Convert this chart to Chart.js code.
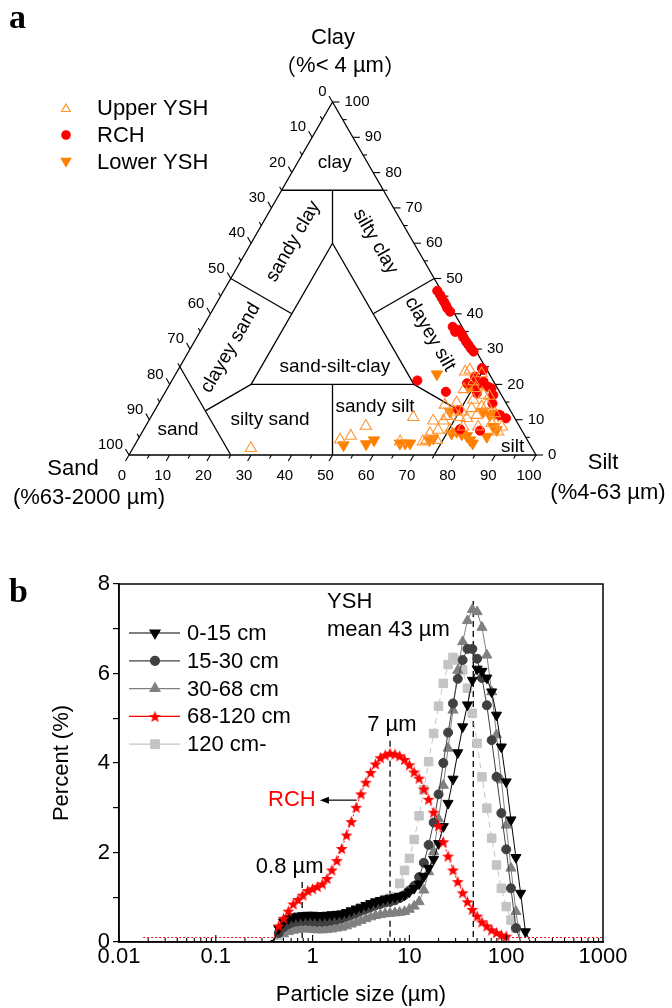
<!DOCTYPE html>
<html>
<head>
<meta charset="utf-8">
<script src="https://cdn.jsdelivr.net/npm/chart.js"></script>
<style>
  html, body { margin: 0; padding: 0; background: #fff; }
  #wrap { position: relative; width: 672px; height: 1008px; }
  canvas { position: absolute; left: 0; }
  #ternary { top: 0; }
  #psd { top: 560px; }
</style>
</head>
<body>
<div id="wrap">
  <canvas id="ternary" width="672" height="560"></canvas>
  <canvas id="psd" width="672" height="448"></canvas>
</div>
<script>
// # Panel a: sample composition (silt %, clay %; sand is the rest)
const upperYshSilt = [49.7, 51.8, 54.1, 64.7, 64.5, 70.3, 69.9, 73.5, 72.4, 70.5, 72.7, 75.3, 73.7, 73.1, 75.8, 78.1, 70.8, 77.8, 71.7, 77.6, 76.8, 75.6, 81.8, 79.8, 78.6, 80.8, 80.2, 84.6, 84.0, 87.4, 87.6, 75.1, 74.2, 73.0, 75.6, 72.4, 70.9, 71.0, 29.0, 79.8];
const upperYshClay = [4.3, 5.4, 8.2, 3.8, 10.7, 3.8, 9.7, 4.2, 7.1, 14.2, 11.0, 7.1, 12.3, 14.8, 10.7, 8.0, 23.6, 10.4, 24.1, 13.2, 15.6, 18.9, 8.0, 13.7, 17.0, 14.2, 16.7, 9.0, 11.8, 6.6, 8.0, 23.1, 20.8, 18.6, 12.3, 9.7, 6.1, 4.2, 1.9, 11.3];
const rchSilt = [52.5, 53.8, 54.7, 55.7, 56.6, 57.4, 58.6, 61.4, 62.7, 63.2, 64.6, 65.5, 66.8, 67.8, 68.9, 70.0, 74.4, 60.3, 68.9, 72.9, 75.5, 76.7, 78.6, 79.6, 81.0, 76.7, 82.0, 74.6, 85.5, 87.4, 77.7, 82.8, 75.0, 73.9];
const rchClay = [46.5, 45.3, 44.4, 43.4, 42.5, 41.6, 40.6, 36.3, 34.9, 35.4, 34.3, 33.3, 32.1, 31.2, 30.2, 29.3, 24.6, 21.1, 17.9, 20.3, 19.8, 20.8, 19.3, 18.9, 17.0, 17.5, 14.6, 12.7, 11.3, 10.4, 7.3, 6.9, 24.1, 22.2];
const lowerYshSilt = [51.3, 56.7, 58.1, 64.9, 66.2, 67.4, 71.7, 72.4, 64.2, 72.7, 76.2, 78.8, 80.3, 81.7, 82.8, 74.3, 80.9, 85.3, 83.0, 85.5, 86.8, 84.0, 85.1, 76.5, 77.2, 73.7];
const lowerYshClay = [2.8, 3.1, 4.2, 3.3, 3.3, 3.3, 4.2, 4.7, 22.9, 12.3, 6.1, 5.9, 5.4, 4.2, 3.3, 19.8, 12.3, 5.2, 11.3, 8.0, 7.1, 11.8, 11.3, 20.3, 6.6, 19.3];
const ternaryTicks = [0, 10, 20, 30, 40, 50, 60, 70, 80, 90, 100];

// # Panel b: particle size classes (µm) and percent per class
const sizeUm = [0.0178, 0.02, 0.0224, 0.0251, 0.0282, 0.0316, 0.0355, 0.0398, 0.0447, 0.0501,
  0.0562, 0.0631, 0.0708, 0.0794, 0.0891, 0.1, 0.112, 0.126, 0.141, 0.158,
  0.178, 0.2, 0.224, 0.251, 0.282, 0.316, 0.355, 0.398, 0.447, 0.501,
  0.562, 0.631, 0.708, 0.794, 0.891, 1, 1.12, 1.26, 1.41, 1.58,
  1.78, 2, 2.24, 2.51, 2.82, 3.16, 3.55, 3.98, 4.47, 5.01,
  5.62, 6.31, 7.08, 7.94, 8.91, 10, 11.2, 12.6, 14.1, 15.8,
  17.8, 20, 22.4, 25.1, 28.2, 31.6, 35.5, 39.8, 44.7, 50.1,
  56.2, 63.1, 70.8, 79.4, 89.1, 100, 112, 126, 141, 158,
  178, 200, 224, 251, 282, 316, 355, 398, 447, 501,
  562, 631, 708, 794, 891, 1000];
const pct0to15 = [0, 0, 0, 0, 0, 0, 0, 0, 0, 0,
  0, 0, 0, 0, 0, 0, 0, 0, 0, 0,
  0, 0, 0, 0, 0, 0, 0, 0.05, 0.3, 0.45,
  0.52, 0.56, 0.58, 0.59, 0.6, 0.6, 0.59, 0.59, 0.6, 0.61,
  0.62, 0.63, 0.66, 0.7, 0.74, 0.78, 0.82, 0.86, 0.9, 0.93,
  0.96, 0.98, 1.0, 1.02, 1.05, 1.12, 1.2, 1.3, 1.47, 1.65,
  1.85, 2.2, 2.58, 3.1, 3.64, 4.23, 4.81, 5.3, 5.85, 6.1,
  6.05, 5.9, 5.59, 5.07, 4.36, 3.58, 2.73, 1.89, 1.09, 0.23,
  0, 0, 0, 0, 0, 0, 0, 0, 0, 0,
  0, 0, 0, 0, 0, 0];
const pct15to30 = [0, 0, 0, 0, 0, 0, 0, 0, 0, 0,
  0, 0, 0, 0, 0, 0, 0, 0, 0, 0,
  0, 0, 0, 0, 0, 0, 0, 0.05, 0.2, 0.33,
  0.4, 0.44, 0.46, 0.47, 0.47, 0.46, 0.45, 0.45, 0.46, 0.48,
  0.5, 0.53, 0.57, 0.61, 0.65, 0.7, 0.74, 0.78, 0.82, 0.85,
  0.88, 0.9, 0.93, 0.98, 1.05, 1.15, 1.25, 1.45, 1.77, 2.17,
  2.67, 3.3, 4.0, 4.68, 5.33, 5.88, 6.3, 6.55, 6.55, 6.33,
  5.9, 5.29, 4.51, 3.69, 2.88, 2.07, 1.2, 0.31, 0, 0,
  0, 0, 0, 0, 0, 0, 0, 0, 0, 0,
  0, 0, 0, 0, 0, 0];
const pct30to68 = [0, 0, 0, 0, 0, 0, 0, 0, 0, 0,
  0, 0, 0, 0, 0, 0, 0, 0, 0, 0,
  0, 0, 0, 0, 0, 0, 0, 0.05, 0.1, 0.18,
  0.23, 0.26, 0.28, 0.29, 0.29, 0.28, 0.27, 0.27, 0.28, 0.29,
  0.31, 0.33, 0.36, 0.4, 0.44, 0.48, 0.52, 0.56, 0.59, 0.61,
  0.63, 0.64, 0.65, 0.66, 0.68, 0.73, 0.8, 0.9, 1.16, 1.57,
  2.02, 2.75, 3.5, 4.33, 5.18, 6.07, 6.71, 7.18, 7.43, 7.38,
  7.03, 6.41, 5.59, 4.63, 3.62, 2.61, 1.65, 0.68, 0, 0,
  0, 0, 0, 0, 0, 0, 0, 0, 0, 0,
  0, 0, 0, 0, 0, 0];
const pct68to120 = [0.1, 0.1, 0.1, 0.1, 0.1, 0.1, 0.1, 0.1, 0.1, 0.1,
  0.1, 0.1, 0.1, 0.1, 0.1, 0.1, 0.1, 0.1, 0.1, 0.1,
  0.1, 0.1, 0.1, 0.1, 0.1, 0.1, 0.1, 0.1, 0.36, 0.53,
  0.69, 0.85, 0.95, 1.05, 1.15, 1.19, 1.24, 1.3, 1.42, 1.61,
  1.82, 2.09, 2.39, 2.69, 3.01, 3.31, 3.57, 3.79, 3.98, 4.12,
  4.18, 4.22, 4.2, 4.16, 4.08, 3.96, 3.8, 3.66, 3.42, 3.19,
  2.9, 2.6, 2.24, 1.92, 1.61, 1.35, 1.1, 0.9, 0.73, 0.58,
  0.45, 0.36, 0.27, 0.21, 0.16, 0.13, 0.1, 0.1, 0.1, 0.1,
  0.1, 0.1, 0.1, 0.1, 0.1, 0.1, 0.1, 0.1, 0.1, 0.1,
  0.1, 0.1, 0.1, 0.1, 0.1, 0.1];
const pct120plus = [0, 0, 0, 0, 0, 0, 0, 0, 0, 0,
  0, 0, 0, 0, 0, 0, 0, 0, 0, 0,
  0, 0, 0, 0, 0, 0, 0, 0.05, 0.15, 0.25,
  0.3, 0.33, 0.35, 0.36, 0.36, 0.36, 0.36, 0.37, 0.39, 0.42,
  0.46, 0.5, 0.55, 0.6, 0.65, 0.7, 0.75, 0.8, 0.85, 0.9,
  0.95, 0.98, 1.01, 1.31, 1.6, 1.87, 2.29, 2.82, 3.4, 4.03,
  4.66, 5.27, 5.78, 6.2, 6.36, 6.3, 6.08, 5.67, 5.11, 4.44,
  3.69, 2.99, 2.32, 1.72, 1.2, 0.79, 0.49, 0.31, 0, 0,
  0, 0, 0, 0, 0, 0, 0, 0, 0, 0,
  0, 0, 0, 0, 0, 0];
const xTickValues = [0.01, 0.1, 1, 10, 100, 1000];
const psdLabels = ["0-15 cm", "15-30 cm", "30-68 cm", "68-120 cm", "120 cm-"];

// # Shared look
const FONT = '"Liberation Sans", Arial, Helvetica, sans-serif';
const CJK = '"Noto Sans CJK SC", "Noto Sans CJK JP", sans-serif';
Chart.defaults.font.family = FONT;
Chart.defaults.color = "#000";
Chart.defaults.animation = false;

const ORANGE_OPEN = "#ff9430";
const ORANGE_FILL = "#ff8000";
const RED = "#ff0000";

// # Little star picture used as point style
const makeStar = (color, size) => {
  const c = document.createElement("canvas");
  c.width = size;
  c.height = size;
  const g = c.getContext("2d");
  const R = size / 2 - 0.2, r = R * 0.42;
  g.beginPath();
  for (let i = 0; i < 10; i++) {
    const a = -Math.PI / 2 + (i * Math.PI) / 5;
    const rr = i % 2 ? r : R;
    g.lineTo(size / 2 + rr * Math.cos(a), size / 2 + 0.6 + rr * Math.sin(a));
  }
  g.closePath();
  g.fillStyle = color;
  g.fill();
  return c;
};
const redStar = makeStar(RED, 13);

// # Draw a marker by hand (for legends)
const marker = (ctx, kind, x, y, r, fill, stroke) => {
  if (kind === "star") {
    ctx.drawImage(redStar, x - redStar.width / 2, y - redStar.height / 2);
    return;
  }
  ctx.save();
  ctx.beginPath();
  if (kind === "triangle" || kind === "triangleDown") {
    const s = kind === "triangle" ? 1 : -1;
    ctx.moveTo(x, y - s * r);
    ctx.lineTo(x + 0.866 * r, y + s * 0.5 * r);
    ctx.lineTo(x - 0.866 * r, y + s * 0.5 * r);
    ctx.closePath();
  } else if (kind === "circle") {
    ctx.arc(x, y, r, 0, Math.PI * 2);
  } else if (kind === "rect") {
    const h = r * Math.SQRT1_2;
    ctx.rect(x - h, y - h, 2 * h, 2 * h);
  }
  if (fill) { ctx.fillStyle = fill; ctx.fill(); }
  if (stroke) { ctx.strokeStyle = stroke; ctx.lineWidth = 1.2; ctx.stroke(); }
  ctx.restore();
};

// # Ternary: silt/clay -> plain x/y of the scatter scales
const toTernary = (silt, clay) => silt.map((s, i) => ({ x: s + clay[i] / 2, y: clay[i] }));

// # Class boundaries (silt %, clay %)
const classLines = [
  [[0, 75], [25, 75]],
  [[12.5, 75], [20, 60]],
  [[20, 60], [20, 20], [60, 20], [20, 60]],
  [[0, 50], [20, 40]],
  [[50, 50], [40, 40]],
  [[0, 25], [25, 0]],
  [[75, 25], [75, 0]],
  [[12.5, 12.5], [20, 20]],
  [[50, 0], [40, 20]],
  [[60, 20], [75, 12.5]]
];
const classNames = [
  ["clay", 9.2, 82.7, 0],
  ["sandy clay", 10.1, 60.5, -60],
  ["silty clay", 30.3, 60.5, 60],
  ["clayey sand", 9.8, 30.3, -60],
  ["clayey silt", 56.8, 34.3, 60],
  ["sand-silt-clay", 38.1, 25, 0],
  ["silty sand", 29.7, 9.9, 0],
  ["sandy silt", 53.6, 13.7, 0],
  ["sand", 8.5, 7.1, 0],
  ["silt", 93.1, 2.3, 0]
];

// # Text with full-width brackets around it, centred on x
const bracketText = (ctx, inner, x, y, size) => {
  ctx.save();
  ctx.textAlign = "left";
  ctx.font = size + "px " + CJK;
  const wb = ctx.measureText("（").width;
  ctx.font = size + "px " + FONT;
  const wi = ctx.measureText(inner).width;
  const left = x - (wb * 2 + wi) / 2;
  ctx.font = size + "px " + CJK;
  ctx.fillText("（", left, y);
  ctx.font = size + "px " + FONT;
  ctx.fillText(inner, left + wb, y);
  ctx.font = size + "px " + CJK;
  ctx.fillText("）", left + wb + wi, y);
  ctx.restore();
};

const ternaryFrame = {
  id: "ternaryFrame",
  beforeDatasetsDraw(chart) {
    const { ctx } = chart;
    const xs = chart.scales.x, ys = chart.scales.y;
    const P = (silt, clay) => [xs.getPixelForValue(silt + clay / 2), ys.getPixelForValue(clay)];
    const seg = (x1, y1, x2, y2) => { ctx.beginPath(); ctx.moveTo(x1, y1); ctx.lineTo(x2, y2); ctx.stroke(); };

    ctx.save();
    ctx.strokeStyle = "#000";
    ctx.lineWidth = 1.3;

    // outer triangle and classes
    [[[0, 0], [100, 0], [0, 100], [0, 0]], ...classLines].forEach((pts) => {
      ctx.beginPath();
      pts.forEach((p, i) => {
        const [px, py] = P(p[0], p[1]);
        i ? ctx.lineTo(px, py) : ctx.moveTo(px, py);
      });
      ctx.stroke();
    });

    // ticks
    ctx.lineWidth = 1.1;
    for (let v = 0; v <= 100; v += 5) {
      const len = v % 10 === 0 ? 7 : 4;
      const [bx, by] = P(v, 0);
      seg(bx, by, bx - 0.5 * len, by + 0.866 * len);
      const [lx, ly] = P(0, 100 - v);
      seg(lx, ly, lx - 0.5 * len, ly - 0.866 * len);
      const [rx, ry] = P(100 - v, v);
      seg(rx, ry, rx + len, ry);
    }

    // tick labels
    ctx.fillStyle = "#000";
    ctx.font = "15px " + FONT;
    ctx.textBaseline = "middle";
    ternaryTicks.forEach((v) => {
      const [bx, by] = P(v, 0);
      ctx.textAlign = "center";
      ctx.fillText(String(v), bx - 7, by + 21);
      const [lx, ly] = P(0, 100 - v);
      ctx.textAlign = "right";
      ctx.fillText(String(v), lx - 6, ly - 10);
      const [rx, ry] = P(100 - v, v);
      ctx.textAlign = "left";
      ctx.fillText(String(v), rx + 12, ry);
    });

    // class names
    ctx.font = "19px " + FONT;
    ctx.textAlign = "center";
    classNames.forEach(([name, silt, clay, rot]) => {
      const [px, py] = P(silt, clay);
      ctx.save();
      ctx.translate(px, py);
      ctx.rotate((rot * Math.PI) / 180);
      ctx.fillText(name, 0, 0);
      ctx.restore();
    });

    // axis names
    ctx.font = "22px " + FONT;
    ctx.fillText("Clay", 333, 38);
    bracketText(ctx, "%< 4 µm", 340, 66, 22);
    ctx.font = "22px " + FONT;
    ctx.textAlign = "center";
    ctx.fillText("Sand", 73, 469);
    ctx.fillText("(%63-2000 µm)", 89, 498);
    ctx.fillText("Silt", 603, 463);
    ctx.fillText("(%4-63 µm)", 608, 493);

    // legend
    const legendRows = [
      ["Upper YSH", "triangle", 5, null, ORANGE_OPEN],
      ["RCH", "circle", 4.2, RED, RED],
      ["Lower YSH", "triangleDown", 5.5, ORANGE_FILL, ORANGE_FILL]
    ];
    ctx.textAlign = "left";
    legendRows.forEach(([text, kind, r, fill, stroke], i) => {
      const y = 108 + i * 27;
      marker(ctx, kind, 66, y + (kind === "triangle" ? 1 : kind === "triangleDown" ? -1 : 0), r, fill, stroke);
      ctx.fillStyle = "#000";
      ctx.fillText(text, 97, y + 1);
    });

    // panel letter
    ctx.font = "bold 34px \"Liberation Serif\", \"Times New Roman\", serif";
    ctx.textBaseline = "alphabetic";
    ctx.fillText("a", 9, 28);
    ctx.restore();
  }
};

new Chart(document.getElementById("ternary"), {
  type: "scatter",
  data: {
    datasets: [
      {
        label: "Upper YSH",
        data: toTernary(upperYshSilt, upperYshClay),
        pointStyle: "triangle",
        pointRadius: 6.5,
        pointBackgroundColor: "rgba(255,255,255,0)",
        pointBorderColor: ORANGE_OPEN,
        pointBorderWidth: 1.1,
        clip: false
      },
      {
        label: "RCH",
        data: toTernary(rchSilt, rchClay),
        pointStyle: "circle",
        pointRadius: 4.6,
        pointBackgroundColor: RED,
        pointBorderColor: RED,
        clip: false
      },
      {
        label: "Lower YSH",
        data: toTernary(lowerYshSilt, lowerYshClay),
        pointStyle: "triangle",
        pointRotation: 180,
        pointRadius: 6.5,
        pointBackgroundColor: ORANGE_FILL,
        pointBorderColor: ORANGE_FILL,
        clip: false
      }
    ]
  },
  options: {
    responsive: false,
    layout: { padding: { left: 129, right: 136, top: 102, bottom: 105 } },
    plugins: { legend: { display: false }, tooltip: { enabled: false } },
    scales: {
      x: { type: "linear", min: 0, max: 100, display: false },
      y: { type: "linear", min: 0, max: 100, display: false }
    }
  },
  plugins: [ternaryFrame]
});

// # Panel b
const psdStyles = [
  { color: "#000000", style: "triangle", rotation: 180, r: 5.8, dash: [] },
  { color: "#404040", style: "circle", rotation: 0, r: 4.5, dash: [] },
  { color: "#808080", style: "triangle", rotation: 0, r: 5.8, dash: [] },
  { color: RED, style: redStar, rotation: 0, r: 5, dash: [2, 2] },
  { color: "#c4c4c4", style: "rect", rotation: 0, r: 6, dash: [6, 4] }
];
const psdValues = [pct0to15, pct15to30, pct30to68, pct68to120, pct120plus];
const drawOrder = [1, 2, 3, 0, 4];

const psdDatasets = psdValues.map((vals, k) => {
  const st = psdStyles[k];
  return {
    label: psdLabels[k],
    data: sizeUm.map((s, i) => ({ x: s, y: vals[i] })),
    borderColor: st.color,
    borderWidth: 1,
    borderDash: st.dash,
    backgroundColor: st.color,
    pointStyle: st.style,
    pointRotation: st.rotation,
    pointBackgroundColor: st.color,
    pointBorderColor: st.color,
    pointBorderWidth: 1,
    pointRadius: (c) => (c.raw && c.raw.y > 0.1 ? st.r : 0),
    tension: 0,
    fill: false,
    order: drawOrder[k]
  };
});

const psdDecor = {
  id: "psdDecor",
  beforeDatasetsDraw(chart) {
    const { ctx } = chart;
    const xs = chart.scales.x, ys = chart.scales.y;
    ctx.save();
    ctx.strokeStyle = "#000";
    ctx.lineWidth = 1.3;
    ctx.setLineDash([6, 4]);
    [[0.78, 1.34], [6.31, 4.5], [45.7, 7.62]].forEach(([sx, top]) => {
      const px = xs.getPixelForValue(sx);
      ctx.beginPath();
      ctx.moveTo(px, ys.getPixelForValue(top));
      ctx.lineTo(px, ys.getPixelForValue(0));
      ctx.stroke();
    });
    ctx.restore();
  },
  afterDraw(chart) {
    const { ctx, chartArea: a } = chart;
    const xs = chart.scales.x, ys = chart.scales.y;
    ctx.save();
    ctx.strokeStyle = "#000";
    ctx.lineWidth = 1.5;
    ctx.strokeRect(a.left, a.top, a.right - a.left, a.bottom - a.top);

    // inside ticks of the log axis
    ctx.lineWidth = 1.1;
    for (let d = 0.01; d < 1000; d *= 10) {
      for (let k = 1; k <= 9; k++) {
        const px = xs.getPixelForValue(d * k);
        const len = k === 1 ? 7 : 4;
        ctx.beginPath();
        ctx.moveTo(px, a.bottom);
        ctx.lineTo(px, a.bottom - len);
        ctx.stroke();
      }
    }

    // notes
    ctx.fillStyle = "#000";
    ctx.font = "22px " + FONT;
    ctx.textBaseline = "middle";
    ctx.textAlign = "left";
    ctx.fillText("YSH", xs.getPixelForValue(1.41), ys.getPixelForValue(7.6));
    ctx.fillText("mean 43 µm", xs.getPixelForValue(1.41), ys.getPixelForValue(6.97));
    ctx.textAlign = "center";
    ctx.fillText("7 µm", xs.getPixelForValue(6.6), ys.getPixelForValue(4.85));
    ctx.fillText("0.8 µm", xs.getPixelForValue(0.58), ys.getPixelForValue(1.68));
    ctx.fillStyle = RED;
    ctx.fillText("RCH", xs.getPixelForValue(0.61), ys.getPixelForValue(3.17));

    // arrow pointing at RCH
    const ay = ys.getPixelForValue(3.17);
    const ax1 = xs.getPixelForValue(2.85), ax0 = xs.getPixelForValue(1.19);
    ctx.strokeStyle = "#000";
    ctx.fillStyle = "#000";
    ctx.lineWidth = 1.2;
    ctx.beginPath();
    ctx.moveTo(ax1, ay);
    ctx.lineTo(ax0 + 6, ay);
    ctx.stroke();
    ctx.beginPath();
    ctx.moveTo(ax0, ay);
    ctx.lineTo(ax0 + 9, ay - 3.5);
    ctx.lineTo(ax0 + 9, ay + 3.5);
    ctx.closePath();
    ctx.fill();

    // legend
    ctx.font = "22px " + FONT;
    ctx.textAlign = "left";
    psdLabels.forEach((text, k) => {
      const st = psdStyles[k];
      const y = a.top + 49 + k * 27.8;
      ctx.strokeStyle = st.color;
      ctx.lineWidth = 1.2;
      ctx.beginPath();
      ctx.moveTo(a.left + 10, y);
      ctx.lineTo(a.left + 61, y);
      ctx.stroke();
      const kind = typeof st.style === "string"
        ? (st.style === "triangle" && st.rotation === 180 ? "triangleDown" : st.style)
        : "star";
      marker(ctx, kind, a.left + 36, y, st.r, st.color, st.color);
      ctx.fillStyle = "#000";
      ctx.fillText(text, a.left + 68, y + 1);
    });

    // panel letter
    ctx.font = "bold 34px \"Liberation Serif\", \"Times New Roman\", serif";
    ctx.textBaseline = "alphabetic";
    ctx.fillText("b", 9, 42);
    ctx.restore();
  }
};

new Chart(document.getElementById("psd"), {
  type: "line",
  data: { datasets: psdDatasets },
  options: {
    responsive: false,
    layout: { padding: { left: 0, right: 69, top: 24, bottom: 0 } },
    plugins: { legend: { display: false }, tooltip: { enabled: false } },
    scales: {
      x: {
        type: "logarithmic",
        min: 0.01,
        max: 1000,
        afterBuildTicks: (s) => { s.ticks = xTickValues.map((v) => ({ value: v })); },
        afterFit: (s) => { s.height = 66; },
        ticks: { callback: (v) => String(v), font: { size: 22 }, padding: 2, maxRotation: 0, autoSkip: false },
        grid: { display: false, drawTicks: false },
        border: { color: "#000", width: 1.5 },
        title: { display: true, text: "Particle size (µm)", font: { size: 22 }, padding: { top: 0, bottom: 0 } }
      },
      y: {
        min: 0,
        max: 8,
        afterFit: (s) => { s.width = 119; },
        ticks: { stepSize: 1, callback: (v) => (v % 2 === 0 ? String(v) : ""), font: { size: 22 }, padding: 3 },
        grid: { drawOnChartArea: false, tickLength: 6, color: "#000", lineWidth: 1.2 },
        border: { color: "#000", width: 1.5 },
        title: { display: true, text: "Percent (%)", font: { size: 22 }, padding: { top: 49, bottom: 0 } }
      }
    }
  },
  plugins: [psdDecor]
});
</script>
</body>
</html>
